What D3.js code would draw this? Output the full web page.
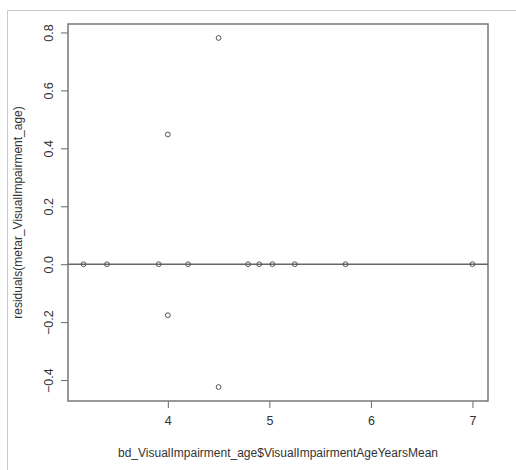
<!DOCTYPE html>
<html>
<head>
<meta charset="utf-8">
<script src="https://cdn.jsdelivr.net/npm/d3@7"></script>
<style>
  body { margin: 0; background: #fff; }
  svg { display: block; font-family: "Liberation Sans", Arial, sans-serif; }
</style>
</head>
<body>
<div id="chart"></div>
<script>
// mean age of visual impairment vs residuals of the meta-regression
const ageMean = [3.17, 3.40, 3.91, 4.00, 4.00, 4.20, 4.50, 4.50, 4.79, 4.90, 5.03, 5.25, 5.75, 7.00];
const residuals = [0, 0, 0, 0.448, -0.176, 0, 0.781, -0.424, 0, 0, 0, 0, 0, 0];
const xTicks = [4, 5, 6, 7];
const yTicks = [-0.4, -0.2, 0.0, 0.2, 0.4, 0.6, 0.8];

const width = 516, height = 470;
const plot = { left: 68, top: 24, right: 488, bottom: 401 };

const svg = d3.select("#chart").append("svg")
  .attr("width", width)
  .attr("height", height);

// light frame around the screenshot
svg.append("path")
  .attr("d", `M7.5,${height} V10.5 H${width}`)
  .attr("fill", "none")
  .attr("stroke", "#c8c8c8");

// R pads the data range by 4% on each side
function padded(vals) {
  const [lo, hi] = d3.extent(vals);
  const p = (hi - lo) * 0.04;
  return [lo - p, hi + p];
}

const x = d3.scaleLinear().domain(padded(ageMean)).range([plot.left, plot.right]);
const y = d3.scaleLinear().domain(padded(residuals)).range([plot.bottom, plot.top]);

const textColor = "#333";
const lineColor = "#666";
const fontSize = "12px";

// x axis
const xAxis = svg.append("g")
  .attr("transform", `translate(0,${plot.bottom})`)
  .call(d3.axisBottom(x).tickValues(xTicks).tickFormat(d3.format("d")).tickSize(7).tickPadding(8));
xAxis.select(".domain").remove();

// y axis
const yAxis = svg.append("g")
  .attr("transform", `translate(${plot.left},0)`)
  .call(d3.axisLeft(y).tickValues(yTicks).tickFormat(d3.format(".1f")).tickSize(7));
yAxis.select(".domain").remove();
yAxis.selectAll(".tick text")
  .attr("x", 0)
  .attr("dy", null)
  .attr("text-anchor", "middle")
  .attr("transform", "translate(-19,0) rotate(-90)")
  .attr("dominant-baseline", "central");

svg.selectAll(".tick line").attr("stroke", lineColor);
svg.selectAll(".tick text").attr("fill", textColor).style("font-size", "12.5px");

// plot box
svg.append("rect")
  .attr("x", plot.left)
  .attr("y", plot.top)
  .attr("width", plot.right - plot.left)
  .attr("height", plot.bottom - plot.top)
  .attr("fill", "none")
  .attr("stroke", "#777")
  .attr("stroke-width", 1.5);

// horizontal reference line at 0
svg.append("line")
  .attr("x1", plot.left)
  .attr("x2", plot.right)
  .attr("y1", y(0))
  .attr("y2", y(0))
  .attr("stroke", lineColor)
  .attr("stroke-width", 1.5);

// points
svg.append("g")
  .selectAll("circle")
  .data(ageMean.map((a, i) => ({ a, r: residuals[i] })))
  .join("circle")
  .attr("cx", d => x(d.a))
  .attr("cy", d => y(d.r))
  .attr("r", 2.4)
  .attr("fill", "none")
  .attr("stroke", "#555")
  .attr("stroke-width", 1);

// axis titles
svg.append("text")
  .attr("x", (plot.left + plot.right) / 2)
  .attr("y", 457)
  .attr("text-anchor", "middle")
  .attr("fill", textColor)
  .style("font-size", fontSize)
  .text("bd_VisualImpairment_age$VisualImpairmentAgeYearsMean");

svg.append("text")
  .attr("transform", `translate(22,${(plot.top + plot.bottom) / 2}) rotate(-90)`)
  .attr("text-anchor", "middle")
  .attr("fill", textColor)
  .style("font-size", fontSize)
  .text("residuals(metar_VisualImpairment_age)");
</script>
</body>
</html>
